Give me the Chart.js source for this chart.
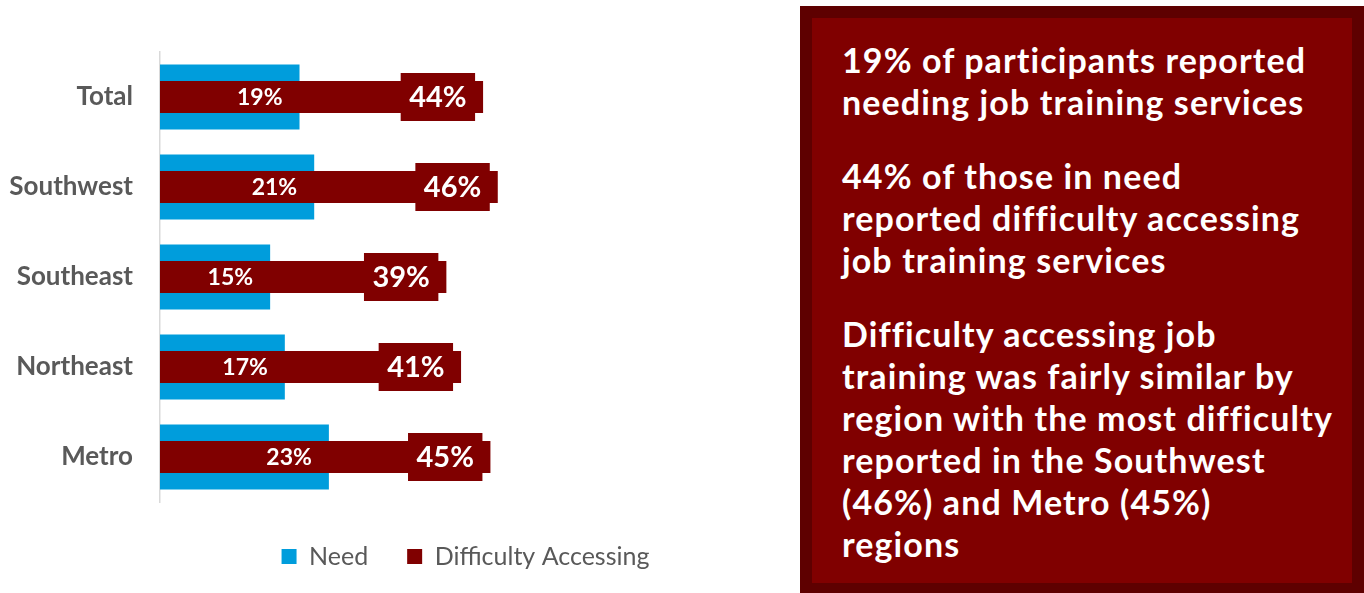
<!DOCTYPE html>
<html>
<head>
<meta charset="utf-8">
<title>Job training</title>
<script src="https://cdn.jsdelivr.net/npm/chart.js@4.4.1/dist/chart.umd.min.js"></script>
<style>
  html, body { margin: 0; padding: 0; background: #fff; }
  body { width: 1364px; height: 593px; position: relative; overflow: hidden; font-family: Lato, sans-serif; }
  #grafico { position: absolute; left: 0; top: 0; width: 931px; height: 593px; }
  #resumo {
    position: absolute; left: 800px; top: 6px; width: 510px; height: 544px;
    background: #800000; border: 12px solid #5e0000;
    color: #fff; font-weight: 700; font-size: 34px; line-height: 42px; letter-spacing: 1.1px;
    padding: 21px 0 0 30px; box-sizing: content-box; white-space: nowrap;
  }
  #resumo p { margin: 0 0 32px 0; }
</style>
</head>
<body>
<div id="grafico"><canvas id="jobChart"></canvas></div>
<div id="resumo">
  <p>19% of participants reported<br>needing job training services</p>
  <p>44% of those in need<br>reported difficulty accessing<br>job training services</p>
  <p>Difficulty accessing job<br>training was fairly similar by<br>region with the most difficulty<br>reported in the Southwest<br>(46%) and Metro (45%)<br>regions</p>
</div>
<script>
// Regiões e percentuais
const regioes = ['Total', 'Southwest', 'Southeast', 'Northeast', 'Metro'];
const necessidade = [19, 21, 15, 17, 23];
const dificuldade = [44, 46, 39, 41, 45];

const azul = '#009ddc';
const vinho = '#800000';
const cinza = '#595959';

// Rótulos dos valores: texto simples na barra azul, caixa na ponta da barra vinho
const rotulos = {
  id: 'rotulos',
  afterDatasetsDraw(chart) {
    const ctx = chart.ctx;
    ctx.save();
    ctx.fillStyle = '#fff';
    ctx.textBaseline = 'middle';

    // Need
    ctx.font = 'bold 23px Lato';
    ctx.textAlign = 'right';
    chart.getDatasetMeta(0).data.forEach((bar, i) => {
      ctx.fillText(necessidade[i] + '%', bar.x - 17, bar.y + 1);
    });

    // Difficulty Accessing
    ctx.font = 'bold 29px Lato';
    ctx.textAlign = 'center';
    chart.getDatasetMeta(1).data.forEach((bar, i) => {
      const txt = dificuldade[i] + '%';
      const w = ctx.measureText(txt).width + 17;
      const h = 48;
      const dir = bar.x - 8;
      ctx.fillStyle = vinho;
      ctx.fillRect(dir - w, bar.y - h / 2, w, h);
      ctx.fillStyle = '#fff';
      ctx.fillText(txt, dir - w / 2, bar.y + 1);
    });
    ctx.restore();
  }
};

const data = {
  labels: regioes,
  datasets: [
    {
      label: 'Need',
      data: necessidade,
      backgroundColor: azul,
      grouped: false,
      barPercentage: 0.72,
      categoryPercentage: 1,
      order: 2
    },
    {
      label: 'Difficulty Accessing',
      data: dificuldade,
      backgroundColor: vinho,
      grouped: false,
      barPercentage: 0.355,
      categoryPercentage: 1,
      order: 1
    }
  ]
};

const config = {
  type: 'bar',
  data: data,
  options: {
    indexAxis: 'y',
    responsive: true,
    maintainAspectRatio: false,
    animation: false,
    layout: { padding: { top: 52, bottom: 14, left: 0, right: 0 } },
    scales: {
      x: {
        min: 0,
        max: 105,
        grid: { display: false },
        border: { display: false },
        ticks: { display: false },
        afterFit(scale) { scale.height = 3; }
      },
      y: {
        grid: { display: false },
        border: { color: '#d9d9d9', width: 1.5 },
        ticks: {
          color: cinza,
          padding: 19,
          font: { family: 'Lato', weight: 'bold', size: 26 }
        },
        afterFit(scale) { scale.width = 160; }
      }
    },
    plugins: {
      tooltip: { enabled: false },
      legend: {
        position: 'bottom',
        labels: {
          boxWidth: 15,
          boxHeight: 15,
          padding: 39,
          color: cinza,
          font: { family: 'Lato', size: 25 },
          sort: (a, b) => a.datasetIndex - b.datasetIndex
        }
      }
    }
  },
  plugins: [rotulos]
};

window.onload = function () {
  const ctx = document.getElementById('jobChart').getContext('2d');
  new Chart(ctx, config);
};
</script>
</body>
</html>
